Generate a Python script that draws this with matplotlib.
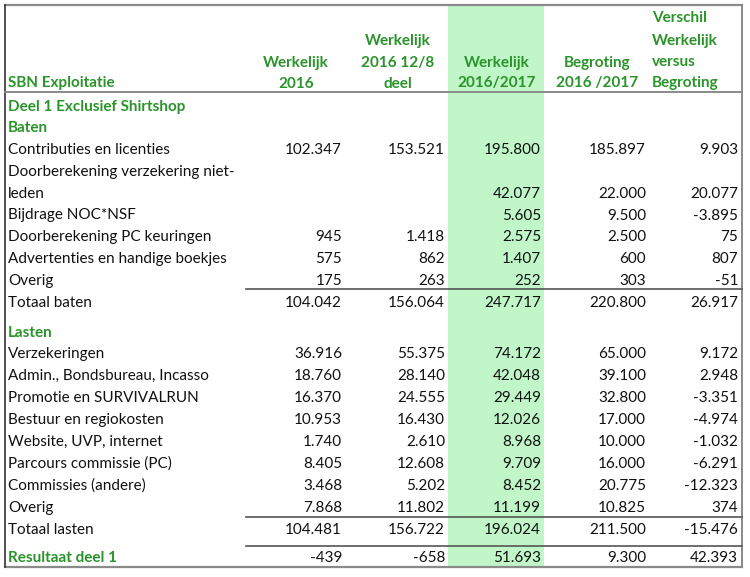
import matplotlib
matplotlib.use('Agg')
import matplotlib.pyplot as plt

plt.rcParams['font.family'] = ['Lato', 'DejaVu Sans']

GREEN = '#2a942a'
MINT = '#c0f6c8'
FS = 11

# column headers (lines, top to bottom)
col_heads = [
    ['Werkelijk', '2016'],
    ['Werkelijk', '2016 12/8', 'deel'],
    ['Werkelijk', '2016/2017'],
    ['Begroting', '2016 /2017'],
    ['Verschil', 'Werkelijk', 'versus', 'Begroting'],
]

labels = ['Deel 1 Exclusief Shirtshop', 'Baten',
          'Contributies en licenties', 'Doorberekening verzekering niet-', 'leden',
          'Bijdrage NOC*NSF', 'Doorberekening PC keuringen',
          'Advertenties en handige boekjes', 'Overig', 'Totaal baten',
          'Lasten', 'Verzekeringen', 'Admin., Bondsbureau, Incasso',
          'Promotie en SURVIVALRUN', 'Bestuur en regiokosten',
          'Website, UVP, internet', 'Parcours commissie (PC)',
          'Commissies (andere)', 'Overig', 'Totaal lasten', 'Resultaat deel 1']
green_rows = ['Deel 1 Exclusief Shirtshop', 'Baten', 'Lasten', 'Resultaat deel 1']

N = None
werkelijk_2016 = [N, N, 102347, N, N, N, 945, 575, 175, 104042,
                  N, 36916, 18760, 16370, 10953, 1740, 8405, 3468, 7868, 104481, -439]
werkelijk_2016_128 = [N, N, 153521, N, N, N, 1418, 862, 263, 156064,
                      N, 55375, 28140, 24555, 16430, 2610, 12608, 5202, 11802, 156722, -658]
werkelijk_1617 = [N, N, 195800, N, 42077, 5605, 2575, 1407, 252, 247717,
                  N, 74172, 42048, 29449, 12026, 8968, 9709, 8452, 11199, 196024, 51693]
begroting_1617 = [N, N, 185897, N, 22000, 9500, 2500, 600, 303, 220800,
                  N, 65000, 39100, 32800, 17000, 10000, 16000, 20775, 10825, 211500, 9300]
verschil = [N, N, 9903, N, 20077, -3895, 75, 807, -51, 26917,
            N, 9172, 2948, -3351, -4974, -1032, -6291, -12323, 374, -15476, 42393]
columns = [werkelijk_2016, werkelijk_2016_128, werkelijk_1617, begroting_1617, verschil]


def fmt(v):
    return '{:,}'.format(v).replace(',', '.')


fig = plt.figure(figsize=(7.5, 5.77), dpi=100)
ax = fig.add_axes([0, 0, 1, 1])
ax.set_xlim(0, 750)
ax.set_ylim(577, 0)
ax.axis('off')

left, right, top, bottom = 5, 742, 5, 567
col_right = [342, 445, 541, 646, 738]
col_center = [296, 398, 497, 597, 652]

# highlighted column
ax.axvspan(448, 544, ymin=(577 - bottom) / 577, ymax=(577 - top) / 577, color=MINT, lw=0, zorder=0)

# row positions
ys = []
y = 105
for i, lab in enumerate(labels):
    if lab == 'Lasten':
        y += 8
    if lab == 'Resultaat deel 1':
        y += 7
    ys.append(y)
    y += 21.9 if i >= 10 else 21.8

# header
head_ys = [17, 40, 61, 82]
ax.text(8, 82, 'SBN Exploitatie', color=GREEN, fontsize=FS, fontweight='bold',
        ha='left', va='center_baseline')
for j, lines in enumerate(col_heads):
    for k, line in enumerate(lines):
        yy = head_ys[4 - len(lines) + k]
        ax.text(col_center[j], yy, line, color=GREEN, fontsize=FS, fontweight='bold',
                ha='left' if j == 4 else 'center', va='center_baseline')

# body
for i, lab in enumerate(labels):
    g = lab in green_rows
    ax.text(8, ys[i], lab, fontsize=FS, color=GREEN if g else '#111111',
            fontweight='bold' if g else 'normal', ha='left', va='center_baseline')
    for j, col in enumerate(columns):
        if col[i] is not None:
            ax.text(col_right[j], ys[i], fmt(col[i]), fontsize=FS, color='#111111',
                    ha='right', va='center_baseline')

# rules
ax.plot([left, right], [top, top], color='#8a8a8a', lw=1.6)
ax.plot([left, right], [bottom, bottom], color='#8a8a8a', lw=1.6)
ax.plot([left, left], [top, bottom], color='#333333', lw=1.2)
ax.plot([right, right], [top, bottom], color='#8a8a8a', lw=1.4)
ax.plot([left, right], [92, 92], color='#8a8a8a', lw=1.4)
for yy in [289, 517, 546]:
    ax.plot([246, right], [yy, yy], color='#555555', lw=1.2)

fig.savefig('out.png', dpi=100, facecolor='white')
